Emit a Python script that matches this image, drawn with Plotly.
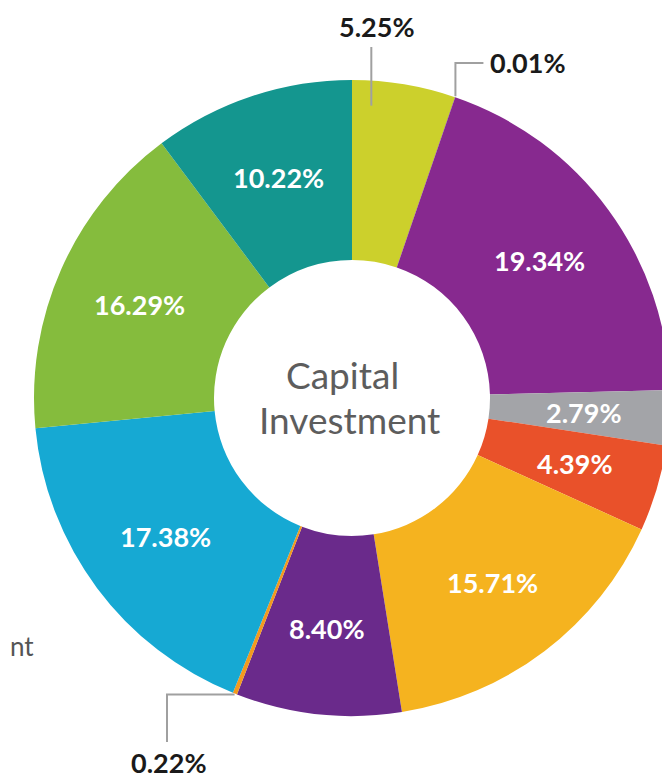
import math
import plotly.graph_objects as go

# ---------------- data ----------------
categories = ["Segment 1", "Segment 2", "Segment 3", "Segment 4", "Segment 5",
              "Segment 6", "Segment 7", "Segment 8", "Segment 9", "Segment 10", "Segment 11"]
values = [5.25, 0.01, 19.34, 2.79, 4.39, 15.71, 8.40, 0.22, 17.38, 16.29, 10.22]
colors = ["#ccd02c", "#2b2360", "#87298f", "#a3a4a8", "#e9512a", "#f5b31f",
          "#6a2a8b", "#f29a1f", "#16a9d3", "#85bc3d", "#14968f"]
callout_index = [0, 1, 7]          # slices labelled outside with leader lines
center_lines = ["Capital", "Investment"]
side_text = "nt"

# ---------------- geometry (pixels of the 670x779 window) ----------------
OFF = 8                       # default body margin of the page
W, H = 670 - OFF, 779 - OFF   # figure size so it fits in the window
cx, cy, R = 352, 398, 318
HOLE = 0.434
LABEL_R = 0.73 * R

def px(x):
    return (x - OFF) / W

def py(y):
    return 1 - (y - OFF) / H

def slice_point(frac, radius):
    ang = 2 * math.pi * frac
    return cx + radius * math.sin(ang), cy - radius * math.cos(ang)

total = sum(values)
cum = []
c = 0
for v in values:
    cum.append(c)
    c += v

fig = go.Figure(go.Pie(
    labels=categories,
    values=values,
    textinfo="none",
    marker=dict(colors=colors, line=dict(width=0)),
    hole=HOLE,
    sort=False,
    direction="clockwise",
    rotation=0,
    hoverinfo="skip",
    showlegend=False,
    domain=dict(x=[px(cx - R), min(1.0, px(cx + R))], y=[py(cy + R), py(cy - R)]),
))

annotations = []
inside_font = dict(family="Lato", size=27, color="white", weight=700)
for i, v in enumerate(values):
    if i in callout_index:
        continue
    fr = (cum[i] + v / 2) / total
    tx, ty = slice_point(fr, LABEL_R)
    annotations.append(dict(x=px(tx), y=py(ty), xref="paper", yref="paper",
                            text=f"{v:.2f}%", showarrow=False, font=inside_font,
                            xanchor="center", yanchor="middle"))

center_font = dict(family="Lato", size=37, color="#5d5d5d", weight=400)
annotations.append(dict(x=px(cx - 10), y=py(cy), xref="paper", yref="paper",
                        text=center_lines[0], showarrow=False, font=center_font,
                        xanchor="center", yanchor="bottom", borderpad=0))
annotations.append(dict(x=px(cx - 3), y=py(cy - 2), xref="paper", yref="paper",
                        text=center_lines[1], showarrow=False, font=center_font,
                        xanchor="center", yanchor="top", borderpad=0))
annotations.append(dict(x=0, y=py(646), xref="paper", yref="paper", text=side_text,
                        showarrow=False, font=dict(family="Lato", size=26, color="#555555"),
                        xanchor="left", yanchor="middle"))

shapes = []
line_style = dict(color="#a0a0a0", width=2)
label_font = dict(family="Lato", size=27, color="#1a1a1a", weight=700)

# 5.25% callout: vertical line into the slice
i = callout_index[0]
fr = (cum[i] + values[i] * 0.2) / total
ax, ay = slice_point(fr, R - 25)
shapes.append(dict(type="path", xref="paper", yref="paper",
                   path=f"M {px(ax)},{py(ay)} L {px(ax)},{py(47)}", line=line_style))
annotations.append(dict(x=px(ax + 6), y=py(26), xref="paper", yref="paper",
                        text=f"{values[i]:.2f}%", showarrow=False, font=label_font,
                        xanchor="center", yanchor="middle"))

# 0.01% callout: up then right
i = callout_index[1]
fr = (cum[i] + values[i] / 2) / total
ax, ay = slice_point(fr, R + 1)
shapes.append(dict(type="path", xref="paper", yref="paper",
                   path=f"M {px(ax)},{py(ay)} L {px(ax)},{py(63)} L {px(ax + 28)},{py(63)}",
                   line=line_style))
annotations.append(dict(x=px(ax + 33), y=py(63), xref="paper", yref="paper",
                        text=f"{values[i]:.2f}%", showarrow=False, font=label_font,
                        xanchor="left", yanchor="middle"))

# 0.22% callout: left then down
i = callout_index[2]
fr = (cum[i] + values[i] / 2) / total
ax, ay = slice_point(fr, R + 1)
shapes.append(dict(type="path", xref="paper", yref="paper",
                   path=f"M {px(ax)},{py(ay)} L {px(167)},{py(ay)} L {px(167)},{py(742)}",
                   line=line_style))
annotations.append(dict(x=px(169), y=py(762), xref="paper", yref="paper",
                        text=f"{values[i]:.2f}%", showarrow=False, font=label_font,
                        xanchor="center", yanchor="middle"))

fig.update_layout(
    width=W, height=H,
    margin=dict(l=0, r=0, t=0, b=0),
    paper_bgcolor="white",
    plot_bgcolor="white",
    annotations=annotations,
    shapes=shapes,
)

fig.write_html("out.html")
